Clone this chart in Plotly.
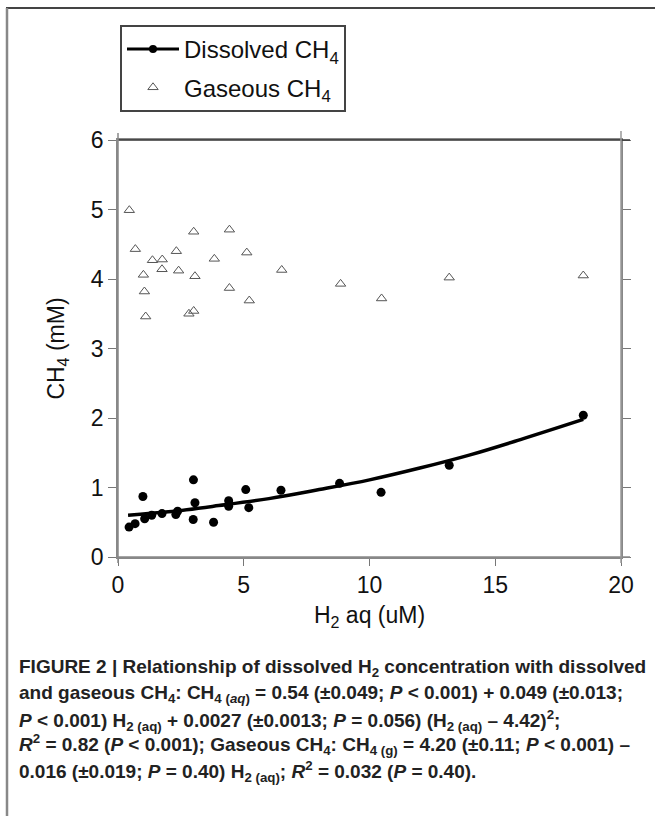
import plotly.graph_objects as go

# ---- data ----
gas_h2 = [0.45, 0.69, 1.01, 1.05, 1.10, 1.37, 1.76, 1.75, 2.32, 2.41, 3.01, 3.06, 2.82, 3.01,
          3.83, 4.43, 4.43, 5.12, 5.22, 6.51, 8.85, 10.48, 13.17, 18.50]
gas_ch4 = [4.99, 4.43, 4.06, 3.82, 3.46, 4.27, 4.28, 4.14, 4.40, 4.12, 4.68, 4.04, 3.50, 3.54,
           4.29, 4.71, 3.87, 4.38, 3.69, 4.13, 3.93, 3.72, 4.02, 4.05]

diss_h2 = [0.44, 0.68, 0.99, 1.06, 1.34, 1.75, 2.30, 2.37, 2.99, 3.06, 3.00, 3.80, 4.40, 4.40,
           5.08, 5.20, 6.48, 8.81, 10.46, 13.17, 18.50]
diss_ch4 = [0.43, 0.48, 0.87, 0.55, 0.60, 0.625, 0.61, 0.66, 0.54, 0.78, 1.11, 0.50, 0.81, 0.73,
            0.97, 0.71, 0.96, 1.06, 0.93, 1.32, 2.04]

fit_h2 = [0.4, 2, 4, 6, 8, 10, 12, 14, 16, 18.5]
fit_ch4 = [0.60, 0.65, 0.74, 0.84, 0.97, 1.11, 1.28, 1.47, 1.69, 1.98]

x_ticks = [0, 5, 10, 15, 20]
y_ticks = [0, 1, 2, 3, 4, 5, 6]

legend_names = ["Dissolved CH<sub>4</sub>", "Gaseous CH<sub>4</sub>"]

caption_lines = [
    "FIGURE 2 | Relationship of dissolved H<sub>2</sub> concentration with dissolved",
    "and gaseous CH<sub>4</sub>: CH<sub>4 (<i>aq</i>)</sub> = 0.54 (±0.049; <i>P</i> &lt; 0.001) + 0.049 (±0.013;",
    "<i>P</i> &lt; 0.001) H<sub>2 (aq)</sub> + 0.0027 (±0.0013; <i>P</i> = 0.056) (H<sub>2 (aq)</sub> – 4.42)<sup>2</sup>;",
    "<i>R</i><sup>2</sup> = 0.82 (<i>P</i> &lt; 0.001); Gaseous CH<sub>4</sub>: CH<sub>4 (g)</sub> = 4.20 (±0.11; <i>P</i> &lt; 0.001) –",
    "0.016 (±0.019; <i>P</i> = 0.40) H<sub>2 (aq)</sub>; <i>R</i><sup>2</sup> = 0.032 (<i>P</i> = 0.40).",
]

# ---- layout geometry (pixels) ----
W, H = 655, 816
L, R, T, B = 118, 621, 140, 557


def px(xp):
    return (xp - L) / (R - L)


def py(yp):
    return (B - yp) / (B - T)


fig = go.Figure()

fig.add_trace(go.Scatter(
    x=fit_h2, y=fit_ch4, mode="lines", line=dict(color="black", width=3.5, shape="spline"),
    showlegend=False, hoverinfo="skip"))
fig.add_trace(go.Scatter(
    x=diss_h2, y=diss_ch4, mode="markers", marker=dict(color="black", size=9),
    showlegend=False))
# legend entries
fig.add_trace(go.Scatter(
    x=[None], y=[None], mode="lines+markers", name=legend_names[0],
    line=dict(color="black", width=3), marker=dict(color="black", size=8),
    legendgroup="a"))
fig.add_trace(go.Scatter(
    x=gas_h2, y=gas_ch4, mode="markers", name=legend_names[1],
    marker=dict(symbol="triangle-up-open", size=9, color="#555", line=dict(width=1)),
    legendgroup="b"))

axis_font = dict(family="Liberation Sans, Arial, sans-serif", size=23, color="#111")

fig.update_layout(
    width=W, height=H,
    margin=dict(l=L, r=W - R, t=T, b=H - B, autoexpand=False),
    paper_bgcolor="white", plot_bgcolor="white",
    font=axis_font,
    xaxis=dict(range=[0, 20], tickvals=x_ticks, ticks="outside", ticklen=7, tickwidth=1.3,
               tickcolor="#777", showline=True, linecolor="#888", linewidth=1.5, mirror=True,
               showgrid=False, zeroline=False, tickfont=axis_font,
               title=dict(text="H<sub>2</sub> aq (uM)", font=dict(size=23, color="#111"), standoff=10)),
    yaxis=dict(range=[0, 6], tickvals=y_ticks, ticks="outside", ticklen=8, tickwidth=1.3,
               tickcolor="#777", showline=True, linecolor="#888", linewidth=1.5, mirror="ticks",
               showgrid=False, zeroline=False, tickfont=axis_font,
               title=dict(text="CH<sub>4</sub> (mM)", font=dict(size=23, color="#111"), standoff=20)),
    legend=dict(x=px(120), y=py(25), xanchor="left", yanchor="top",
                bgcolor="white", bordercolor="#444", borderwidth=2,
                font=dict(family="Liberation Sans, Arial, sans-serif", size=24, color="#111"),
                itemwidth=52, tracegroupgap=4),
    showlegend=True,
)

shapes = []
# extended frame lines of the plot box
shapes.append(dict(type="line", xref="paper", yref="paper", x0=0, x1=px(630), y0=0, y1=0,
                   line=dict(color="#888", width=1.5)))
shapes.append(dict(type="line", xref="paper", yref="paper", x0=0, x1=px(630), y0=1, y1=1,
                   line=dict(color="#333", width=1.5)))
shapes.append(dict(type="line", xref="paper", yref="paper", x0=0, x1=0, y0=py(563), y1=py(133),
                   line=dict(color="#888", width=1.5)))
shapes.append(dict(type="line", xref="paper", yref="paper", x0=1, x1=1, y0=py(563), y1=py(131),
                   line=dict(color="#999", width=1.5)))
# outer page border (top and left)
shapes.append(dict(type="line", xref="paper", yref="paper", x0=px(6), x1=px(655), y0=py(8), y1=py(8),
                   line=dict(color="#444", width=2)))
shapes.append(dict(type="line", xref="paper", yref="paper", x0=px(7), x1=px(7), y0=py(8), y1=py(816),
                   line=dict(color="#888", width=2.5)))
fig.update_layout(shapes=shapes)

cap_y = [668, 694, 720, 745, 771]
cap_font = dict(family="Liberation Sans, Arial, sans-serif", size=19, color="#222")
for i, (line, yy) in enumerate(zip(caption_lines, cap_y)):
    fig.add_annotation(text="<b>" + line + "</b>", xref="paper", yref="paper",
                       x=px(17), y=py(yy), xanchor="left", yanchor="middle",
                       showarrow=False, font=cap_font, align="left")

fig.write_html("out.html")
